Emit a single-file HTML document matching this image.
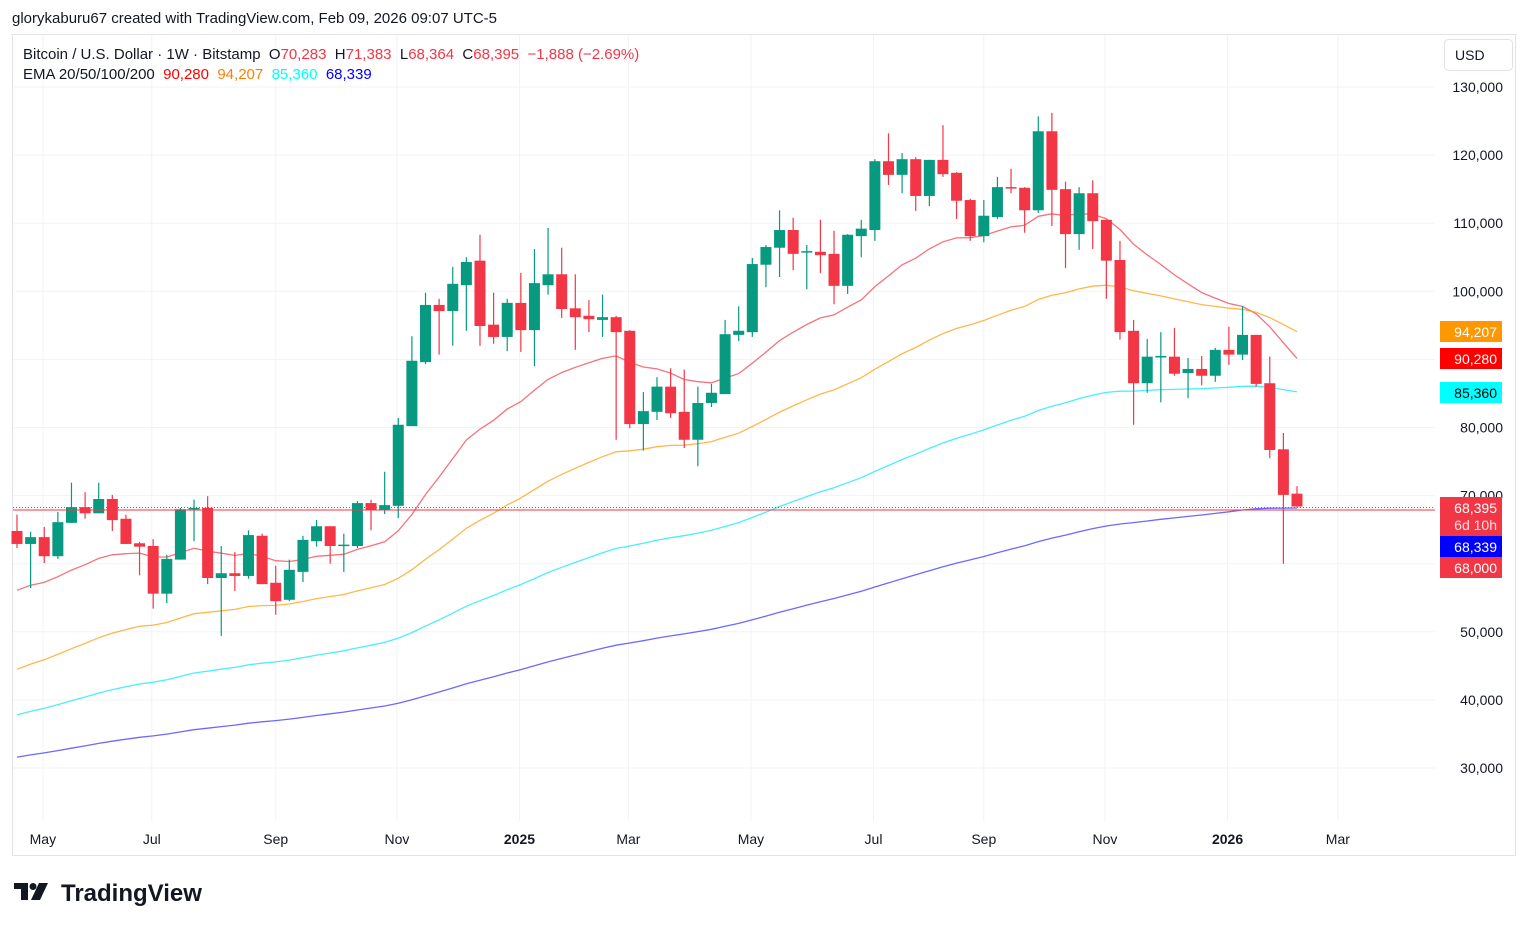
<!DOCTYPE html>
<html><head><meta charset="utf-8">
<style>
html,body{margin:0;padding:0;background:#fff;width:1529px;height:931px;overflow:hidden;font-family:"Liberation Sans",sans-serif;}
#hdr{position:absolute;left:12px;top:10px;font-size:15px;color:#131722;}
#chart{position:absolute;left:0;top:0;}
.logo{position:absolute;left:14px;top:878px;}
</style></head><body>
<div id="hdr">glorykaburu67 created with TradingView.com, Feb 09, 2026 09:07 UTC-5</div>
<svg id="chart" width="1529" height="931" xmlns="http://www.w3.org/2000/svg"></svg>
<svg class="logo" width="210" height="32">
  <path d="M0 5 H14 V22 H7 V11 H0 Z" fill="#131722"/>
  <circle cx="19" cy="8.5" r="3.5" fill="#131722"/>
  <path d="M25 5 H34 L26 22 H17 Z" fill="#131722"/>
  <text x="47" y="23" font-family="Liberation Sans, sans-serif" font-weight="bold" font-size="24" fill="#131722">TradingView</text>
</svg>
<script>
// ---- data (thousands USD), weekly candles ----
const opens  = [64.8,62.9,63.9,61.1,66.0,68.3,67.4,69.5,66.6,63.0,62.6,55.6,60.6,68.0,68.2,57.9,58.6,58.2,64.1,57.2,54.7,58.8,63.3,65.5,62.6,62.6,68.9,67.9,68.5,80.2,89.6,98.0,97.1,100.9,104.5,95.1,93.3,98.3,94.3,100.9,102.5,97.5,96.4,95.8,96.2,94.2,80.5,82.3,86.0,82.3,78.2,83.6,84.9,93.6,94.0,103.9,106.4,109.0,105.8,105.8,105.5,100.8,108.1,109.0,119.1,117.1,119.4,114.0,119.3,117.4,113.4,108.1,110.9,115.3,115.2,111.9,123.5,115.0,108.4,114.4,110.5,104.6,94.2,86.5,90.4,90.4,88.0,88.6,87.6,91.4,90.7,93.6,86.5,76.8,70.283];
const highs  = [67.2,64.7,65.4,67.6,71.9,70.5,71.9,70.1,67.2,63.2,63.6,61.3,68.2,69.4,69.9,62.6,61.7,64.9,64.4,59.7,60.6,64.1,66.4,65.5,64.4,69.2,69.4,73.5,81.4,93.4,99.8,98.9,103.6,105.0,108.3,99.8,98.9,102.7,106.2,109.3,106.4,102.5,98.7,99.5,96.4,94.3,85.2,87.4,88.7,88.5,86.0,86.4,95.8,97.8,104.9,106.8,111.9,110.8,106.8,110.5,108.9,108.4,110.5,119.4,123.2,120.3,119.7,119.3,124.4,117.5,113.6,113.4,116.8,118.0,115.3,125.7,126.2,116.1,115.3,116.3,110.5,107.4,95.8,93.0,94.0,94.6,90.2,90.5,91.7,94.8,97.8,93.6,90.4,79.2,71.383];
const lows   = [62.3,56.4,60.1,60.7,66.0,66.6,67.4,64.8,62.9,58.3,53.4,54.2,60.6,63.3,57.0,49.4,56.0,57.8,57.0,52.5,54.5,57.3,62.5,60.0,58.8,62.3,64.9,67.3,66.7,80.2,89.3,90.7,92.0,94.2,92.0,92.3,91.2,91.1,89.0,99.5,96.1,91.4,94.0,93.3,78.2,79.9,76.6,81.1,81.4,77.0,74.3,83.0,84.9,92.7,93.3,100.6,102.1,103.1,100.3,102.7,98.1,99.6,105.0,107.4,115.6,114.4,111.8,112.5,116.8,110.6,107.4,107.2,110.6,114.4,108.6,111.5,109.6,103.4,106.1,106.2,98.9,92.9,80.4,85.1,83.7,87.6,84.3,86.2,86.7,89.2,89.9,86.0,75.5,60.0,68.364];
const closes = [62.9,63.9,61.1,66.1,68.3,67.4,69.5,66.4,62.9,62.5,55.6,60.7,68.0,68.2,57.9,58.6,58.2,64.2,57.0,54.5,59.1,63.5,65.5,62.6,62.8,68.9,67.9,68.6,80.4,89.8,98.0,97.1,101.1,104.3,94.9,93.3,98.3,94.3,101.2,102.5,97.4,96.2,95.9,96.2,94.0,80.5,82.4,86.0,82.1,78.2,83.6,85.1,93.7,94.2,104.0,106.5,109.0,105.5,105.9,105.3,100.8,108.3,109.2,119.1,117.1,119.4,114.0,119.3,117.2,113.3,108.1,111.1,115.3,115.2,111.9,123.5,114.9,108.4,114.4,110.3,104.5,94.0,86.5,90.4,90.5,87.9,88.6,87.6,91.4,90.7,93.6,86.4,76.7,70.1,68.395];
const emaPeriods = [20,50,100,200];
const emaSeeds = [56.1,44.5,37.8,31.6];
const emaColors = ['#f23645','#ff9800','#00e5ff','#2b2bff'];
const priceTicks = [30,40,50,70,80,100,110,120,130];
const tickLabels = ['30,000','40,000','50,000','70,000','80,000','100,000','110,000','120,000','130,000'];
const gridLevels = [30,40,50,60,70,80,90,100,110,120,130];
const monthLabels = ['May','Jul','Sep','Nov','2025','Mar','May','Jul','Sep','Nov','2026','Mar'];
const monthWeeks = [1.9,9.9,19.0,27.9,36.9,44.9,53.9,62.9,71.0,79.9,88.9,97.0];

// ---- scales ----
const X0 = 17, DX = 13.617;
function xs(i){ return X0 + i*DX; }
function ys(v){ return 87 + (130 - v)*6.81; }

const svg = document.getElementById('chart');
const NS = 'http://www.w3.org/2000/svg';
function mk(tag, attrs, parent){
  const e = document.createElementNS(NS, tag);
  for (const k in attrs) e.setAttribute(k, attrs[k]);
  (parent||svg).appendChild(e);
  return e;
}
const frame = mk('rect',{x:12.5,y:34.5,width:1503,height:821,fill:'none',stroke:'#e0e3eb','stroke-width':1});



const grid = mk('g',{});


gridLevels.forEach(v=>{
  mk('line',{x1:13,x2:1435,y1:ys(v),y2:ys(v),stroke:'#f0f3fa','stroke-width':1},grid);
});
monthWeeks.forEach(w=>{
  mk('line',{x1:xs(w),x2:xs(w),y1:35,y2:821,stroke:'#f0f3fa','stroke-width':1},grid);
});

// EMA lines
emaPeriods.forEach((p,j)=>{
  const k = 2/(p+1);
  let e = emaSeeds[j];
  const pts = [];
  closes.forEach((c,i)=>{
    if(i>0) e = e + k*(c-e);
    pts.push(xs(i).toFixed(1)+','+ys(e).toFixed(1));
  });
  const pl = mk('polyline',{points:pts.join(' '),fill:'none',stroke:emaColors[j],'stroke-width':1.3,'stroke-opacity':0.7});
  
  
});

// candles
const cg = mk('g',{});


closes.forEach((c,i)=>{
  const o = opens[i], up = c >= o;
  const col = up ? '#089981' : '#f23645';
  const g = mk('g',{},cg);
  
  
  const x = xs(i);
  mk('line',{x1:x,x2:x,y1:ys(highs[i]),y2:ys(lows[i]),stroke:col,'stroke-width':1.2},g);
  const top = ys(Math.max(o,c)), bot = ys(Math.min(o,c));
  mk('rect',{x:x-5.5,y:top,width:11,height:Math.max(1.5,bot-top),fill:col},g);
});

// current price lines
const last = closes[closes.length-1];
const pl1 = mk('line',{x1:13,x2:1435,y1:ys(last)+1,y2:ys(last)+1,stroke:'#f23645','stroke-width':1,'stroke-dasharray':'1,2'});


const pl2 = mk('line',{x1:13,x2:1435,y1:ys(last)+3.5,y2:ys(last)+3.5,stroke:'#f23645','stroke-width':1});



// axis labels
priceTicks.forEach((v,i)=>{
  const t = mk('text',{x:1503,y:ys(v)+5,'text-anchor':'end','font-size':14,fill:'#131722'});
  t.textContent = tickLabels[i];
  
  
});
monthLabels.forEach((m,i)=>{
  const bold = (m==='2025'||m==='2026');
  const t = mk('text',{x:xs(monthWeeks[i]),y:844,'text-anchor':'middle','font-size':14,fill:'#131722','font-weight':bold?'bold':'normal'});
  t.textContent = m;
  
  
});

// tags
const tags = [['94,207',321,'#ff9800','#fff'],['90,280',348,'#ff0000','#fff'],['85,360',382,'#00ffff','#000'],['68,395',497,'#f23645','#fff'],['68,339',536,'#0000ff','#fff'],['68,000',557,'#f23645','#fff']];
tags.forEach(([lab,y,bg,fg])=>{
  const g = mk('g',{});
  
  
  const h = lab==='68,395' ? 39 : 21;
  mk('rect',{x:1440,y:y,width:62,height:h,fill:bg},g);
  const t = mk('text',{x:1497,y:y+16,'text-anchor':'end','font-size':14,fill:fg},g);
  t.textContent = lab;
  if(lab==='68,395'){
    const t2 = mk('text',{x:1497,y:y+33,'text-anchor':'end','font-size':14,fill:'#ffe0e3'},g);
    t2.textContent = '6d 10h';
  }
});

// USD button
const ub = mk('g',{});


mk('rect',{x:1444.5,y:39.5,width:68,height:31,rx:4,fill:'#fff',stroke:'#e0e3eb'},ub);
const ut = mk('text',{x:1455,y:60,'font-size':14,fill:'#131722'},ub);
ut.textContent='USD';

// legend
const lg = mk('g',{});


const l1 = mk('text',{x:23,y:59,'font-size':15,fill:'#131722'},lg);


l1.style.whiteSpace='pre';
l1.innerHTML = 'Bitcoin / U.S. Dollar · 1W · Bitstamp  O<tspan fill="#f23645">70,283</tspan>  H<tspan fill="#f23645">71,383</tspan>  L<tspan fill="#f23645">68,364</tspan>  C<tspan fill="#f23645">68,395</tspan>  <tspan fill="#f23645">−1,888 (−2.69%)</tspan>';
const l2 = mk('text',{x:23,y:79,'font-size':15,fill:'#131722'},lg);


l2.style.whiteSpace='pre';
l2.innerHTML = 'EMA 20/50/100/200  <tspan fill="#ff0000">90,280</tspan>  <tspan fill="#ff8000">94,207</tspan>  <tspan fill="#00ffff">85,360</tspan>  <tspan fill="#0000ff">68,339</tspan>';
</script>
</body></html>
